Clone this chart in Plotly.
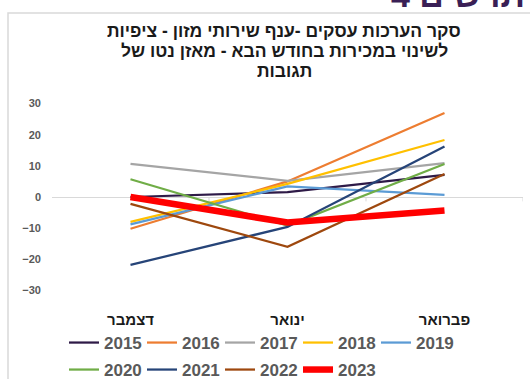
import plotly.graph_objects as go

months = ["דצמבר", "ינואר", "פברואר"]
years = ["2015", "2016", "2017", "2018", "2019", "2020", "2021", "2022", "2023"]
v2015 = [0, 1.6, 7.1]
v2016 = [-10.2, 5, 27]
v2017 = [10.6, 5.2, 10.9]
v2018 = [-8, 4.2, 18.3]
v2019 = [-8.8, 3.4, 0.7]
v2020 = [5.7, -9.2, 10.6]
v2021 = [-21.8, -9.6, 16.2]
v2022 = [-2.2, -16, 7.4]
v2023 = [0, -8.2, -4.3]
series = [v2015, v2016, v2017, v2018, v2019, v2020, v2021, v2022, v2023]
colors = ["#2E1A47", "#ED7D31", "#A5A5A5", "#FFC000", "#5B9BD5",
          "#70AD47", "#264478", "#9E480E", "#FF0000"]
widths = [2.25] * 8 + [6.5]
yticks = [-30, -20, -10, 0, 10, 20, 30]

title_lines = ["סקר הערכות עסקים -ענף שירותי מזון - ציפיות",
               "לשינוי במכירות בחודש הבא - מאזן נטו של",
               "תגובות"]
title_y = [31, 51, 71]

fig = go.Figure()
for i, (name, vals) in enumerate(zip(years, series)):
    fig.add_trace(go.Scatter(
        x=months, y=vals, name=name, mode="lines",
        line=dict(color=colors[i], width=widths[i]),
        legend="legend" if i < 5 else "legend2",
    ))

W, H = 530, 379
PL, PR, PT, PB = 52, 523, 88, 306
pw, ph = PR - PL, PB - PT

def px(x):
    return (x - PL) / pw

def py(y):
    return (PB - y) / ph

leg_common = dict(orientation="h", xref="container", yref="container",
                  xanchor="left", yanchor="middle",
                  entrywidth=33, entrywidthmode="pixels",
                  font=dict(family="Liberation Sans, Arial", size=17, color="#595959", weight="bold"),
                  bgcolor="rgba(0,0,0,0)", itemwidth=30, tracegroupgap=0)

fig.update_layout(
    width=W, height=H,
    margin=dict(l=PL, r=W - PR, t=PT, b=H - PB, autoexpand=False),
    paper_bgcolor="white", plot_bgcolor="white",
    font=dict(family="Liberation Sans, Arial, DejaVu Sans", color="#595959"),
    showlegend=True,
    legend=dict(x=64 / W, y=1 - 343 / H, **leg_common),
    legend2=dict(x=64 / W, y=1 - 370 / H, **leg_common),
    xaxis=dict(type="category", range=[-0.5, 2.5], showgrid=False, zeroline=False,
               showline=False, ticks="", ticklabelstandoff=3,
               tickfont=dict(family="Liberation Sans, Arial, DejaVu Sans", size=15,
                             color="#1a1a1a", weight="bold")),
    yaxis=dict(range=[-35, 35], tickvals=yticks, showgrid=False, zeroline=True,
               zerolinecolor="#d9d9d9", zerolinewidth=1, showline=False,
               ticklabelstandoff=10,
               tickfont=dict(family="Liberation Sans, Arial, DejaVu Sans", size=11,
                             color="#595959", weight="bold")),
)

# title, one annotation per line
for line, yy in zip(title_lines, title_y):
    fig.add_annotation(text=line, xref="paper", yref="paper",
                       x=px(284), y=py(yy), xanchor="center", yanchor="middle",
                       showarrow=False, align="center",
                       font=dict(family="Liberation Sans, Arial, DejaVu Sans", size=17.5,
                                 color="#1a1a1a", weight="bold"))
# cropped header above the chart frame
fig.add_annotation(text="4 תרשים", xref="paper", yref="paper",
                   x=px(527), y=py(16), xanchor="right", yanchor="bottom",
                   showarrow=False,
                   font=dict(family="Liberation Sans, Arial, DejaVu Sans", size=34,
                             color="#3A1F55", weight="bold"))
# chart frame
fig.add_shape(type="rect", xref="paper", yref="paper",
              x0=px(8), x1=px(545), y0=py(395), y1=py(13),
              line=dict(color="#d9d9d9", width=1.5), layer="below")
# category tick marks on the zero line
for k in range(len(months)):
    fig.add_shape(type="line", xref="x", yref="y", x0=k + 0.5, x1=k + 0.5,
                  y0=0, y1=-1.4, line=dict(color="#d9d9d9", width=1), layer="below")

fig.write_html("out.html")
